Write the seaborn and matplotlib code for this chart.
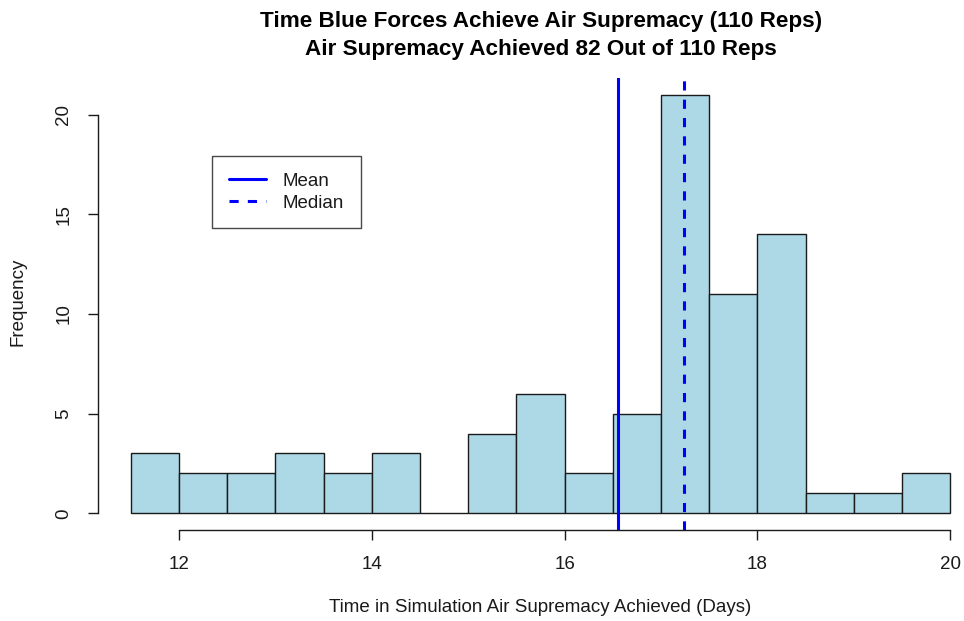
import numpy as np
import matplotlib
matplotlib.use("Agg")
import matplotlib.pyplot as plt
import seaborn as sns
from matplotlib.lines import Line2D

# Histogram bins (days) and counts per bin
bin_edges = [11.5, 12.0, 12.5, 13.0, 13.5, 14.0, 14.5, 15.0, 15.5, 16.0,
             16.5, 17.0, 17.5, 18.0, 18.5, 19.0, 19.5, 20.0]
counts = [3, 2, 2, 3, 2, 3, 0, 4, 6, 2, 5, 21, 11, 14, 1, 1, 2]
mean_day = 16.55
median_day = 17.24
x_ticks = [12, 14, 16, 18, 20]
y_ticks = [0, 5, 10, 15, 20]

sns.set_style("white")
plt.rcParams["font.family"] = ["Liberation Sans", "DejaVu Sans"]

W, H = 964, 621
fig = plt.figure(figsize=(W / 100, H / 100), dpi=100)
ax = fig.add_axes([98 / W, 1 - 530 / H, 885 / W, 452 / H])

centers = [(a + b) / 2 for a, b in zip(bin_edges[:-1], bin_edges[1:])]
sns.histplot(x=centers, weights=counts, bins=bin_edges, ax=ax,
             color="#ADD8E6", edgecolor="#1a1a1a", linewidth=1.0, alpha=1.0)

ax.axvline(mean_day, color="blue", lw=2.2, ls="-")
ax.axvline(median_day, color="blue", lw=2.2, ls=(0, (3, 3)))

ax.set_xlim(11.16, 20.34)
ax.set_ylim(-0.84, 21.84)

for s in ["top", "right"]:
    ax.spines[s].set_visible(False)
ax.spines["left"].set_bounds(0, 20)
ax.spines["bottom"].set_bounds(12, 20)
for s in ["left", "bottom"]:
    ax.spines[s].set_color("#1a1a1a")
    ax.spines[s].set_linewidth(1.0)

ax.set_xticks(x_ticks)
ax.set_yticks(y_ticks)
ax.set_xticklabels([str(t) for t in x_ticks])
ax.set_yticklabels([str(t) for t in y_ticks], rotation=90, va="center")
ax.tick_params(axis="both", direction="out", length=7.5, width=1.0,
               color="#1a1a1a", labelcolor="#1a1a1a", labelsize=13.5, pad=11,
               left=True, bottom=True)
ax.set_xlabel("")
ax.set_ylabel("")

fig.text(540 / W, 1 - 608 / H, "Time in Simulation Air Supremacy Achieved (Days)",
         ha="center", va="center", fontsize=13.5, color="#1a1a1a")
fig.text(18 / W, 1 - 302 / H, "Frequency", ha="center", va="center",
         rotation=90, fontsize=13.5, color="#1a1a1a")
fig.text(541 / W, 1 - 21 / H, "Time Blue Forces Achieve Air Supremacy (110 Reps)",
         ha="center", va="center", fontsize=16.2, fontweight="bold", color="black")
fig.text(541 / W, 1 - 49 / H, "Air Supremacy Achieved 82 Out of 110 Reps",
         ha="center", va="center", fontsize=16.2, fontweight="bold", color="black")

handles = [Line2D([0], [0], color="blue", lw=2.2, ls="-"),
           Line2D([0], [0], color="blue", lw=2.2, ls=(0, (3, 3)))]
leg = ax.legend(handles, ["Mean", "Median"], loc="upper left",
                bbox_to_anchor=((212 - 98) / 885, (530 - 156) / 452),
                frameon=True, fancybox=False, fontsize=13.5,
                handlelength=2.0, borderpad=0.88, labelspacing=0.26,
                handletextpad=0.9, borderaxespad=0)
leg.get_frame().set_edgecolor("#1a1a1a")
leg.get_frame().set_linewidth(1.0)
for t in leg.get_texts():
    t.set_color("#1a1a1a")

fig.savefig("out.png", dpi=100)
